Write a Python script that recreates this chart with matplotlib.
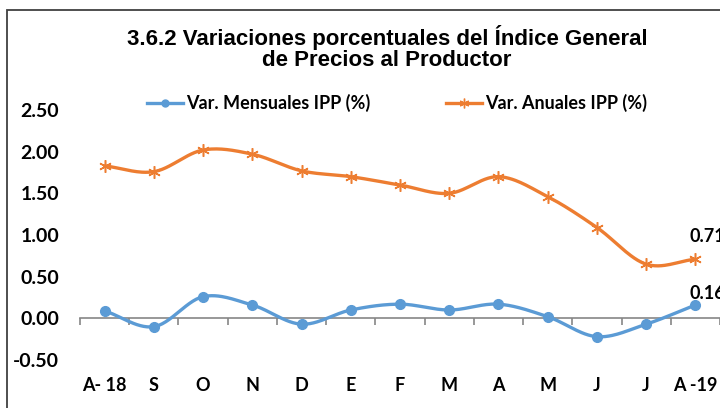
import numpy as np
import matplotlib.pyplot as plt
from matplotlib.patches import Rectangle

# data
meses = ["A- 18", "S", "O", "N", "D", "E", "F", "M", "A", "M", "J", "J", "A -19"]
mensual = [0.09, -0.10, 0.26, 0.16, -0.07, 0.10, 0.17, 0.10, 0.17, 0.02, -0.22, -0.07, 0.16]
anual = [1.83, 1.76, 2.02, 1.97, 1.77, 1.70, 1.60, 1.50, 1.70, 1.46, 1.09, 0.65, 0.71]
yticks = [-0.50, 0.00, 0.50, 1.00, 1.50, 2.00, 2.50]

azul = "#5B9BD5"
naranja = "#ED7D31"
lbl_font = ["Lato", "DejaVu Sans"]


def suavizar(x, y, n=30):
    # Catmull-Rom curve through the points (like Excel's smoothed line)
    x = np.asarray(x, float)
    y = np.asarray(y, float)
    px = np.concatenate([[2 * x[0] - x[1]], x, [2 * x[-1] - x[-2]]])
    py = np.concatenate([[2 * y[0] - y[1]], y, [2 * y[-1] - y[-2]]])
    t = np.linspace(0, 1, n)[:, None]
    xs, ys = [], []
    for i in range(1, len(px) - 2):
        for p, out in ((px, xs), (py, ys)):
            p0, p1, p2, p3 = p[i - 1], p[i], p[i + 1], p[i + 2]
            c = 0.5 * ((2 * p1) + (-p0 + p2) * t + (2 * p0 - 5 * p1 + 4 * p2 - p3) * t**2
                       + (-p0 + 3 * p1 - 3 * p2 + p3) * t**3)
            out.append(c.ravel())
    return np.concatenate(xs), np.concatenate(ys)


x = np.arange(len(meses))

fig = plt.figure(figsize=(7.2, 4.08), dpi=100)
ax = fig.add_axes([80 / 720, 48 / 408, 640 / 720, 250 / 408])

sx, sy = suavizar(x, mensual)
ax.plot(sx, sy, color=azul, lw=2.4, solid_capstyle="round", zorder=3)
ax.plot(x, mensual, ls="none", marker="o", ms=7, color=azul, zorder=4)
sx, sy = suavizar(x, anual)
ax.plot(sx, sy, color=naranja, lw=2.4, solid_capstyle="round", zorder=3)
ax.plot(x, anual, ls="none", marker=(6, 2, 0), ms=9, mew=1.1, color=naranja, zorder=4)

# legend handles
h1, = ax.plot([], [], color=azul, lw=2.4, marker="o", ms=5)
h2, = ax.plot([], [], color=naranja, lw=2.4, marker=(6, 2, 0), ms=7, mew=1)
fig.legend([h1, h2], ["Var. Mensuales IPP (%)", "Var. Anuales IPP (%)"],
           loc="center", bbox_to_anchor=(397 / 720, 1 - 103 / 408), ncol=2,
           frameon=False, columnspacing=4.2, handlelength=2.0, handletextpad=0.15,
           prop={"family": lbl_font, "weight": "bold", "size": 13})

ax.set_xlim(-0.5, len(meses) - 0.5)
ax.set_ylim(-0.5, 2.5)
ax.set_yticks(yticks)
ax.set_yticklabels([f"{v:.2f}" for v in yticks], fontfamily=lbl_font,
                   fontweight="bold", fontsize=14)
ax.tick_params(axis="y", length=0, pad=15)

for s in ["top", "right", "left"]:
    ax.spines[s].set_visible(False)
ax.spines["bottom"].set_position(("data", 0))
ax.spines["bottom"].set_color("#868686")
ax.spines["bottom"].set_linewidth(1.2)
ax.set_xticks(x)
ax.set_xticklabels(meses, fontfamily=lbl_font, fontweight="bold", fontsize=13)
ax.set_xticks(np.arange(len(meses) + 1) - 0.5, minor=True)
ax.tick_params(axis="x", which="major", length=0, pad=42)
ax.tick_params(axis="x", which="minor", length=5, color="#868686", width=1.2)

# labels on the last points
ax.annotate(f"{anual[-1]:.2f}", (x[-1], anual[-1]), xytext=(-4, 16.5), textcoords="offset points",
            ha="left", va="center", fontfamily=lbl_font, fontweight="bold", fontsize=13,
            annotation_clip=False)
ax.annotate(f"{mensual[-1]:.2f}", (x[-1], mensual[-1]), xytext=(-4, 8.5), textcoords="offset points",
            ha="left", va="center", fontfamily=lbl_font, fontweight="bold", fontsize=13,
            annotation_clip=False)

titulo = ["3.6.2 Variaciones porcentuales del Índice General", "de Precios al Productor"]
for linea, yy in zip(titulo, [37, 60]):
    fig.text(387 / 720, 1 - yy / 408, linea, ha="center", va="center",
             fontfamily=["Liberation Sans", "DejaVu Sans"], fontweight="bold", fontsize=16)

# chart border
fig.patches.append(Rectangle((7 / 720, -0.1), 1.2, 1.1 - 10 / 408, transform=fig.transFigure,
                             fill=False, edgecolor="#404040", lw=1.3))

fig.savefig("out.png", dpi=100, facecolor="white")
